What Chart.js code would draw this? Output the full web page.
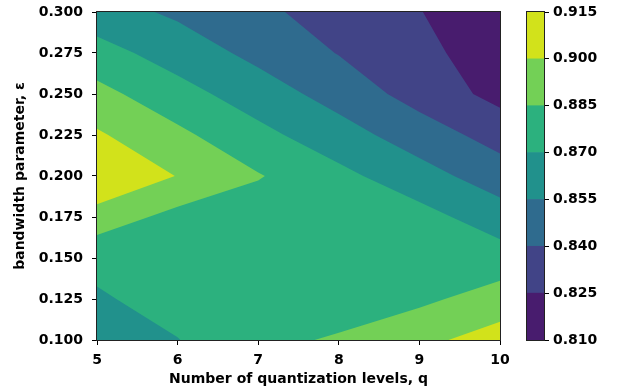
<!DOCTYPE html>
<html>
<head>
<meta charset="utf-8">
<script src="https://cdn.jsdelivr.net/npm/chart.js@4.4.1/dist/chart.umd.min.js"></script>
<style>
  html, body { margin: 0; padding: 0; background: #fff; }
  #wrap { position: relative; width: 620px; height: 392px; }
  #wrap canvas { position: absolute; top: 0; }
  #main { left: 0; }
  #cbar { left: 500px; }
</style>
</head>
<body>
<div id="wrap">
  <canvas id="main" width="620" height="392"></canvas>
  <canvas id="cbar" width="120" height="392"></canvas>
</div>
<script>
// grid axes
const qLevels = [5, 6, 7, 8, 9, 10];
const epsValues = [0.100, 0.125, 0.150, 0.175, 0.200, 0.225, 0.250, 0.275, 0.300];

// values, one row per epsilon, columns q = 5..10
const accEps100 = [0.8620, 0.8696, 0.8815, 0.8865, 0.8961, 0.9069];
const accEps125 = [0.8683, 0.8754, 0.8780, 0.8780, 0.8820, 0.8915];
const accEps150 = [0.8739, 0.8780, 0.8770, 0.8770, 0.8795, 0.8768];
const accEps175 = [0.8937, 0.8801, 0.8770, 0.8760, 0.8753, 0.8620];
const accEps200 = [0.9140, 0.8995, 0.8860, 0.8740, 0.8608, 0.8473];
const accEps225 = [0.9019, 0.8882, 0.8742, 0.8611, 0.8476, 0.8340];
const accEps250 = [0.8895, 0.8756, 0.8623, 0.8492, 0.8340, 0.8205];
const accEps275 = [0.8758, 0.8632, 0.8510, 0.8394, 0.8280, 0.8190];
const accEps300 = [0.8613, 0.8525, 0.8445, 0.8310, 0.8255, 0.8140];
const accuracy = [accEps100, accEps125, accEps150, accEps175, accEps200,
                  accEps225, accEps250, accEps275, accEps300];

const contourLevels = [0.810, 0.825, 0.840, 0.855, 0.870, 0.885, 0.900, 0.915];
const xTicks = [5, 6, 7, 8, 9, 10];
const yTicks = [0.100, 0.125, 0.150, 0.175, 0.200, 0.225, 0.250, 0.275, 0.300];
const cbTicks = contourLevels;

const bandColors = ['#481c6e', '#414487', '#2f6b8e', '#21918c', '#2cb17e', '#73d056', '#d2e21b'];

const tickFont = { family: 'DejaVu Sans', size: 14, weight: 'bold' };
const ink = '#000';

// keep the part of a cell polygon where z >= lo
function clipCell(pts, lo) {
    const out = [];
    for (let i = 0; i < pts.length; i++) {
        const a = pts[i], b = pts[(i + 1) % pts.length];
        const ina = a.z >= lo, inb = b.z >= lo;
        if (ina) out.push(a);
        if (ina !== inb) {
            const t = (lo - a.z) / (b.z - a.z);
            out.push({ x: a.x + t * (b.x - a.x), y: a.y + t * (b.y - a.y), z: lo });
        }
    }
    return out;
}

const contourPlugin = {
    id: 'contourFill',
    beforeDatasetsDraw(chart) {
        const { ctx, chartArea, scales: { x, y } } = chart;
        ctx.save();
        ctx.beginPath();
        ctx.rect(chartArea.left, chartArea.top, chartArea.width, chartArea.height);
        ctx.clip();
        // paint from the lowest level up, each band covers z >= its lower level
        for (let k = 0; k < bandColors.length; k++) {
            const lo = contourLevels[k];
            ctx.beginPath();
            for (let j = 0; j < epsValues.length - 1; j++) {
                for (let i = 0; i < qLevels.length - 1; i++) {
                    const cell = [
                        { x: qLevels[i], y: epsValues[j], z: accuracy[j][i] },
                        { x: qLevels[i + 1], y: epsValues[j], z: accuracy[j][i + 1] },
                        { x: qLevels[i + 1], y: epsValues[j + 1], z: accuracy[j + 1][i + 1] },
                        { x: qLevels[i], y: epsValues[j + 1], z: accuracy[j + 1][i] }
                    ];
                    const poly = clipCell(cell, lo);
                    if (poly.length < 3) continue;
                    poly.forEach((p, n) => {
                        const px = x.getPixelForValue(p.x), py = y.getPixelForValue(p.y);
                        if (n) ctx.lineTo(px, py); else ctx.moveTo(px, py);
                    });
                    ctx.closePath();
                }
            }
            ctx.fillStyle = bandColors[k];
            ctx.fill();
        }
        ctx.restore();
    }
};

const framePlugin = {
    id: 'frame',
    afterDraw(chart) {
        const { ctx, chartArea: a } = chart;
        ctx.save();
        ctx.strokeStyle = '#222';
        ctx.lineWidth = 1;
        ctx.strokeRect(Math.round(a.left) - 0.5, Math.round(a.top) - 0.5,
                       Math.round(a.right - a.left) + 1, Math.round(a.bottom - a.top) + 1);
        ctx.restore();
    }
};

const gridPoints = [];
epsValues.forEach((e, j) => qLevels.forEach((q, i) => gridPoints.push({ x: q, y: e, v: accuracy[j][i] })));

new Chart(document.getElementById('main'), {
    type: 'scatter',
    data: { datasets: [{ data: gridPoints, pointRadius: 0, showLine: false }] },
    options: {
        responsive: false,
        animation: false,
        layout: { padding: { left: 0, top: 12, right: 120, bottom: 0 } },
        plugins: { legend: { display: false }, tooltip: { enabled: false } },
        scales: {
            x: {
                type: 'linear', min: 5, max: 10,
                afterFit: s => { s.height = 52; },
                afterBuildTicks: s => { s.ticks = xTicks.map(v => ({ value: v })); },
                ticks: { font: tickFont, color: ink, padding: 7, autoSkip: false, maxRotation: 0,
                         callback: v => String(v) },
                grid: { drawOnChartArea: false, tickLength: 5, color: ink },
                border: { display: false },
                title: { display: true, text: 'Number of quantization levels, q', font: tickFont,
                         color: ink, padding: { top: 0, bottom: 4 } }
            },
            y: {
                type: 'linear', min: 0.1, max: 0.3,
                afterFit: s => { s.width = 97; s.paddingTop = 0; s.paddingBottom = 0; },
                afterBuildTicks: s => { s.ticks = yTicks.map(v => ({ value: v })); },
                ticks: { font: tickFont, color: ink, padding: 9, autoSkip: false,
                         callback: v => v.toFixed(3) },
                grid: { drawOnChartArea: false, tickLength: 5, color: ink },
                border: { display: false },
                title: { display: true, text: 'bandwidth parameter, \u03b5', font: tickFont,
                         color: ink, padding: { top: 12, bottom: 0 } }
            }
        }
    },
    plugins: [contourPlugin, framePlugin]
});

// colour bar: one floating bar per contour band
new Chart(document.getElementById('cbar'), {
    type: 'bar',
    data: {
        labels: ['accuracy'],
        datasets: bandColors.map((c, k) => ({
            data: [[contourLevels[k], contourLevels[k + 1]]],
            backgroundColor: c,
            borderWidth: 0,
            grouped: false,
            barPercentage: 1,
            categoryPercentage: 1
        }))
    },
    options: {
        responsive: false,
        animation: false,
        layout: { padding: { left: 27, top: 12, right: 0, bottom: 52 } },
        plugins: { legend: { display: false }, tooltip: { enabled: false } },
        scales: {
            x: { display: false },
            y: {
                position: 'right', min: 0.81, max: 0.915,
                afterFit: s => { s.width = 76; s.paddingTop = 0; s.paddingBottom = 0; },
                afterBuildTicks: s => { s.ticks = cbTicks.map(v => ({ value: v })); },
                ticks: { font: tickFont, color: ink, padding: 4, autoSkip: false,
                         callback: v => v.toFixed(3) },
                grid: { drawOnChartArea: false, tickLength: 5, color: ink },
                border: { display: false }
            }
        }
    },
    plugins: [framePlugin]
});
</script>
</body>
</html>
